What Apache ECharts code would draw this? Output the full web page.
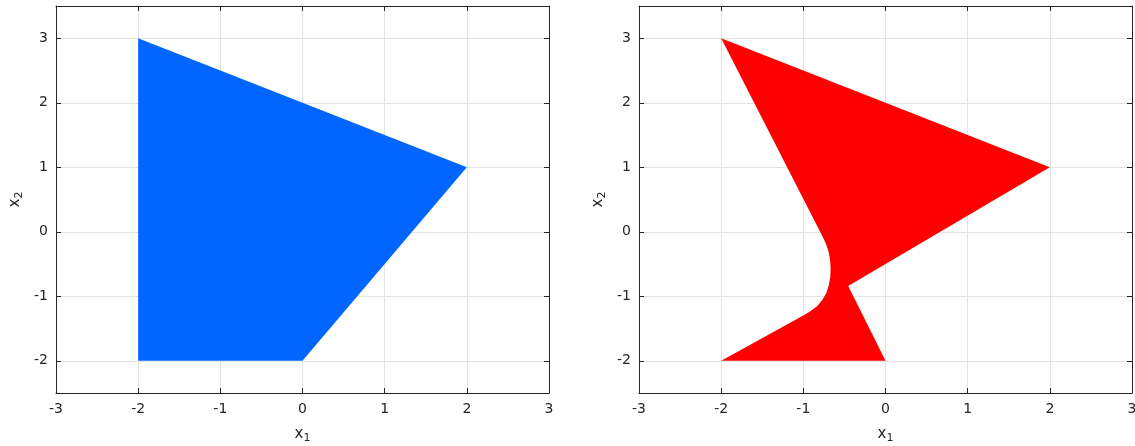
<!DOCTYPE html>
<html>
<head>
<meta charset="utf-8">
<script src="https://cdn.jsdelivr.net/npm/echarts@6/dist/echarts.min.js"></script>
<style>html,body{margin:0;padding:0;background:#fff}#c{width:1135px;height:446px}</style>
</head>
<body>
<div id="c"></div>
<script>
// Data
const xTicks = [-3, -2, -1, 0, 1, 2, 3];
const yTicks = [-2, -1, 0, 1, 2, 3];
const blueShape = [[-2, 3], [2, 1], [0, -2], [-2, -2]];
const redOuter = [[-2, 3], [2, 1], [-0.454, -0.841], [0, -2], [-2, -2]];
const redCurve = [
  [-1.10, -1.37], [-1.00, -1.30], [-0.91, -1.23], [-0.83, -1.15], [-0.77, -1.06],
  [-0.72, -0.95], [-0.69, -0.83], [-0.672, -0.70], [-0.668, -0.56], [-0.675, -0.43],
  [-0.695, -0.30], [-0.73, -0.17], [-0.78, -0.04]
];
const redShape = redOuter.concat(redCurve);
const blueColor = '#0066ff';
const redColor = '#ff0000';

const FONT = 'DejaVu Sans';
const TXT = '#262626';
const GRIDC = '#e3e3e3';

function nameRich() {
  return {
    a: { fontSize: 15, fontFamily: FONT, color: TXT },
    s: { fontSize: 11, fontFamily: FONT, color: TXT, padding: [9, 0, 0, 0] }
  };
}

function makeX(gridIndex, pos, main) {
  return {
    type: 'value', gridIndex: gridIndex, position: pos,
    min: xTicks[0], max: xTicks[xTicks.length - 1], interval: 1,
    axisLine: { show: true, onZero: false, lineStyle: { color: TXT, width: 1 } },
    axisTick: { show: true, inside: true, length: 5, lineStyle: { color: TXT } },
    axisLabel: { show: main, fontSize: 14, fontFamily: FONT, color: TXT, margin: 9, hideOverlap: false },
    splitLine: { show: main, lineStyle: { color: GRIDC, width: 1 } },
    name: main ? '{a|x}{s|1}' : '',
    nameLocation: 'middle', nameGap: 31,
    nameTextStyle: { rich: nameRich() }
  };
}
function makeY(gridIndex, pos, main) {
  return {
    type: 'value', gridIndex: gridIndex, position: pos,
    min: yTicks[0] - 0.5, max: yTicks[yTicks.length - 1] + 0.5, splitNumber: 5,
    axisLine: { show: true, onZero: false, lineStyle: { color: TXT, width: 1 } },
    axisTick: { show: true, inside: true, length: 5, lineStyle: { color: TXT } },
    axisLabel: {
      show: main, fontSize: 14, fontFamily: FONT, color: TXT, margin: 8,
      showMinLabel: true, showMaxLabel: true,
      formatter: function (v) { return Number.isInteger(v) ? String(v) : ''; }
    },
    splitLine: { show: main, lineStyle: { color: GRIDC, width: 1 } },
    name: main ? '{a|x}{s|2}' : '',
    nameLocation: 'middle', nameGap: 31, nameRotate: 90,
    nameTextStyle: { rich: nameRich() }
  };
}

function polySeries(idx, shape, color) {
  return {
    type: 'custom', xAxisIndex: idx, yAxisIndex: idx, silent: true,
    data: shape,
    renderItem: function (params, api) {
      if (params.dataIndex !== 0) return null;
      const pts = shape.map(function (p) { return api.coord(p); });
      return { type: 'polygon', shape: { points: pts }, style: { fill: color, stroke: null } };
    },
    z: 1
  };
}

const chart = echarts.init(document.getElementById('c'), null, { renderer: 'canvas' });
chart.setOption({
  animation: false,
  backgroundColor: '#ffffff',
  grid: [
    { left: 56, top: 6, width: 493, height: 387, containLabel: false, outerBoundsMode: 'none' },
    { left: 639, top: 6, width: 493, height: 387, containLabel: false, outerBoundsMode: 'none' }
  ],
  xAxis: [makeX(0, 'bottom', true), makeX(0, 'top', false), makeX(1, 'bottom', true), makeX(1, 'top', false)],
  yAxis: [makeY(0, 'left', true), makeY(0, 'right', false), makeY(1, 'left', true), makeY(1, 'right', false)],
  series: [polySeries(0, blueShape, blueColor), polySeries(2, redShape, redColor)]
});
</script>
</body>
</html>
